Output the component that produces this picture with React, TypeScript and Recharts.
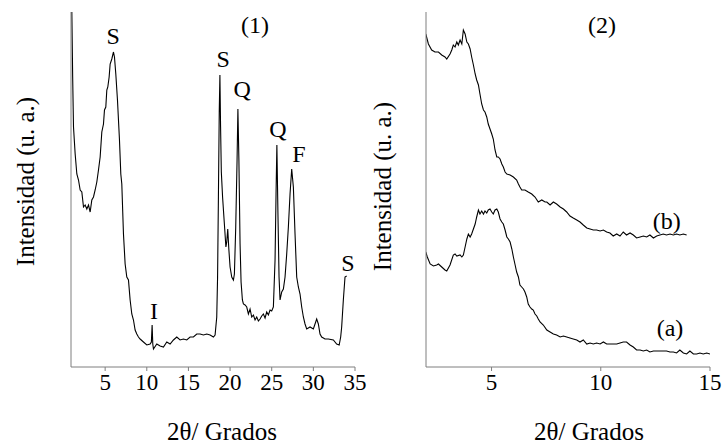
import { LineChart, Line, XAxis, YAxis, Label, ReferenceDot } from 'recharts'

// panel (1): full diffractogram
const theta1 = [
  0.9, 1.0, 1.1, 1.2, 1.4, 1.6, 1.8, 2.0, 2.2, 2.4, 2.6, 2.8, 3.0, 3.2, 3.4, 3.6, 3.8, 4.0, 4.2, 4.4,
  4.6, 4.8, 4.92, 5.08, 5.2, 5.32, 5.48, 5.6, 5.8, 6.0, 6.12, 6.28, 6.48, 6.72, 6.88, 7.0, 7.2, 7.4, 7.6, 7.8,
  8.0, 8.2, 8.4, 8.6, 8.8, 9.0, 9.2, 9.6, 10.0, 10.4, 10.55, 10.64, 10.72, 10.8, 11.2, 11.6, 12.0, 12.4, 12.8, 13.2,
  13.6, 14.0, 14.4, 14.8, 15.2, 15.6, 16.0, 16.4, 16.8, 17.2, 17.6, 18.0, 18.2, 18.4, 18.5, 18.6, 18.7, 18.78, 18.86, 18.95,
  19.1, 19.3, 19.5, 19.6, 19.72, 19.85, 20.0, 20.2, 20.4, 20.52, 20.68, 20.84, 20.94, 21.06, 21.2, 21.32, 21.48, 21.6, 21.8, 22.0,
  22.2, 22.4, 22.6, 22.8, 23.0, 23.2, 23.4, 23.6, 23.8, 24.0, 24.2, 24.4, 24.6, 24.8, 25.0, 25.2, 25.4, 25.52, 25.62, 25.74,
  25.88, 26.0, 26.2, 26.4, 26.6, 26.8, 27.0, 27.2, 27.4, 27.6, 27.8, 28.0, 28.2, 28.4, 28.6, 28.8, 29.0, 29.2, 29.6, 30.0,
  30.2, 30.4, 30.6, 30.8, 31.0, 31.4, 31.8, 32.4, 32.8, 33.1, 33.28, 33.4, 33.6, 33.8, 34.0
]
const counts1 = [
  370, 355, 290, 240, 213, 193, 187, 177, 175, 160, 162, 158, 162, 155, 167, 170, 177, 185, 197, 210,
  235, 243, 257, 260, 277, 280, 290, 303, 308, 315, 310, 293, 267, 227, 193, 183, 133, 103, 90, 87,
  67, 53, 47, 37, 33, 30, 28, 25, 22, 23, 25, 42, 23, 18, 23, 21, 20, 25, 23, 27,
  30, 27, 28, 27, 30, 30, 33, 33, 32, 33, 32, 30, 32, 50, 90, 170, 255, 292, 240, 195,
  170, 145, 120, 125, 138, 118, 100, 90, 87, 93, 140, 207, 258, 207, 123, 85, 67, 63, 62, 60,
  53, 58, 50, 52, 47, 50, 46, 48, 51, 53, 49, 55, 52, 57, 56, 60, 107, 173, 222, 157,
  90, 67, 75, 78, 90, 113, 140, 173, 198, 180, 133, 90, 80, 73, 60, 50, 43, 38, 40, 38,
  43, 48, 43, 33, 30, 28, 28, 27, 23, 22, 30, 40, 67, 90, 91
]

// panel (2): curve (a)
const theta2a = [
  1.99, 2.06, 2.19, 2.34, 2.49, 2.57, 2.72, 2.87, 2.95, 3.10, 3.25, 3.33, 3.41, 3.56, 3.64, 3.71, 3.79, 3.87, 3.94, 4.02,
  4.09, 4.17, 4.25, 4.32, 4.40, 4.47, 4.55, 4.63, 4.70, 4.78, 4.85, 4.93, 5.01, 5.08, 5.16, 5.24, 5.31, 5.39, 5.47, 5.54,
  5.62, 5.70, 5.77, 5.85, 5.93, 6.00, 6.08, 6.15, 6.23, 6.30, 6.38, 6.46, 6.53, 6.61, 6.68, 6.76, 6.84, 6.91, 6.99, 7.07,
  7.14, 7.22, 7.37, 7.53, 7.68, 7.83, 7.98, 8.14, 8.29, 8.44, 8.59, 8.74, 8.90, 9.05, 9.20, 9.36, 9.51, 9.66, 9.81, 9.97,
  10.12, 10.27, 10.42, 10.57, 10.73, 10.88, 11.03, 11.18, 11.34, 11.49, 11.64, 11.80, 11.95, 12.10, 12.25, 12.41, 12.56, 12.71, 12.86, 13.01,
  13.17, 13.32, 13.47, 13.62, 13.78, 13.93, 14.08, 14.24, 14.39, 14.54, 14.69, 14.85, 15.0
]
const counts2a = [
  115, 110, 103, 101, 102, 103, 100, 97, 96, 102, 112, 113, 111, 112, 110, 112, 120, 128, 133, 130,
  133, 138, 143, 150, 157, 153, 156, 153, 156, 154, 157, 158, 155, 153, 157, 158, 155, 148, 145, 143,
  137, 130, 128, 125, 118, 110, 102, 95, 90, 82, 80, 78, 75, 70, 63, 60, 58, 57, 53, 51,
  48, 45, 42, 37, 35, 33, 32, 30, 31, 30, 29, 28, 27, 25, 27, 23, 24, 23, 24, 23,
  25, 23, 23, 23, 23, 24, 25, 25, 22, 20, 17, 17, 16, 17, 15, 16, 16, 16, 16, 16,
  15, 15, 14, 17, 14, 13, 16, 13, 13, 14, 13, 14, 13
]

// panel (2): curve (b)
const theta2b = [
  1.99, 2.11, 2.26, 2.41, 2.57, 2.72, 2.87, 2.95, 3.10, 3.18, 3.25, 3.33, 3.41, 3.48, 3.56, 3.64, 3.71, 3.79, 3.87, 3.94,
  4.02, 4.09, 4.17, 4.25, 4.32, 4.40, 4.47, 4.55, 4.63, 4.70, 4.78, 4.85, 4.93, 5.01, 5.08, 5.16, 5.24, 5.31, 5.39, 5.47,
  5.54, 5.62, 5.70, 5.85, 6.0, 6.15, 6.23, 6.30, 6.38, 6.53, 6.68, 6.84, 6.99, 7.14, 7.30, 7.45, 7.53, 7.68, 7.83, 7.98,
  8.14, 8.29, 8.44, 8.59, 8.74, 8.90, 9.05, 9.20, 9.36, 9.51, 9.66, 9.81, 9.97, 10.12, 10.27, 10.42, 10.57, 10.73, 10.88, 11.03,
  11.18, 11.34, 11.49, 11.64, 11.80, 11.95, 12.10, 12.25, 12.41, 12.56, 12.71, 12.86, 13.01, 13.17, 13.32, 13.47, 13.62, 13.78, 13.93
]
const counts2b = [
  333, 323, 317, 315, 315, 312, 310, 308, 313, 317, 322, 320, 325, 322, 327, 323, 337, 333, 325, 323,
  318, 310, 302, 293, 287, 282, 273, 263, 257, 255, 250, 243, 238, 233, 228, 217, 210, 210, 208, 203,
  200, 195, 193, 192, 190, 187, 183, 180, 177, 177, 175, 173, 170, 165, 167, 165, 165, 162, 165, 163,
  160, 158, 155, 151, 149, 147, 145, 142, 139, 138, 137, 137, 136, 137, 135, 134, 131, 133, 131, 135,
  132, 134, 132, 129, 130, 131, 130, 132, 129, 131, 132, 133, 132, 133, 132, 133, 132, 133, 132
]

const xTicks1 = [5, 10, 15, 20, 25, 30, 35]
const xTicks2 = [5, 10, 15]
const yTicks1 = [119, 236, 353]
const yTicks2 = [20, 109, 198, 287]

// phase letters: S esmectita, Q cuarzo, F feldespato, I illita
const tags1 = [
  { text: 'S', t: 5.96, v: 332 },
  { text: 'S', t: 19.16, v: 309 },
  { text: 'Q', t: 21.44, v: 279 },
  { text: 'Q', t: 25.76, v: 239 },
  { text: 'F', t: 28.28, v: 214 },
  { text: 'I', t: 10.88, v: 57 },
  { text: 'S', t: 34.16, v: 105 },
  { text: '(1)', t: 23.0, v: 343 }
]
const tags2 = [
  { text: '(2)', t: 10.06, v: 343 },
  { text: '(b)', t: 13.02, v: 147 },
  { text: '(a)', t: 13.17, v: 40 }
]

const pairs = (xs: number[], ys: number[]) => xs.map((t, i) => ({ t, v: ys[i] }))
const data1 = pairs(theta1, counts1)
const data2a = pairs(theta2a, counts2a)
const data2b = pairs(theta2b, counts2b)

const serif = '"Liberation Serif", "Times New Roman", serif'
const axisGrey = '#7f7f7f'
const tickStyle = { fontSize: 23, fill: '#000', fontFamily: serif }

const xTitle = (shift: number) => (p: any) => {
  const vb = p.viewBox
  return (
    <text x={vb.x + vb.width / 2 + shift} y={vb.y + vb.height - 7} textAnchor="middle"
      fontFamily={serif} fontSize={25} fill="#000">2θ/ Grados</text>
  )
}

const yTitle = (dx: number, dy: number) => (p: any) => {
  const vb = p.viewBox
  const cx = vb.x + dx
  const cy = vb.y + vb.height / 2 + dy
  return (
    <text x={cx} y={cy} transform={`rotate(-90 ${cx} ${cy})`} textAnchor="middle" dominantBaseline="central"
      fontFamily={serif} fontSize={25} fill="#000">Intensidad (u. a.)</text>
  )
}

const tagLabel = (text: string) => ({
  value: text,
  position: 'center' as const,
  fontSize: 24,
  fill: '#000',
  fontFamily: serif
})

export default function App() {
  return (
    <div style={{ position: 'absolute', left: 0, top: 0, width: 722, height: 447, background: '#fff' }}>
      <div style={{ position: 'absolute', left: 0, top: 0 }}>
        <LineChart width={385} height={447} margin={{ top: 12, right: 30, left: 11, bottom: 0 }}>
          <XAxis type="number" dataKey="t" domain={[0.9, 35]} ticks={xTicks1} allowDataOverflow
            height={80} tickSize={4} tickMargin={3} tick={tickStyle}
            axisLine={{ stroke: axisGrey }} tickLine={{ stroke: axisGrey }}>
            <Label content={xTitle(9)} />
          </XAxis>
          <YAxis type="number" domain={[0, 355]} ticks={yTicks1} allowDataOverflow width={60}
            tick={false} tickSize={3} axisLine={{ stroke: axisGrey }} tickLine={{ stroke: axisGrey }}>
            <Label content={yTitle(14, -8)} />
          </YAxis>
          <Line data={data1} dataKey="v" type="linear" stroke="#000" strokeWidth={1.1} dot={false}
            isAnimationActive={false} />
          {tags1.map((g, i) => (
            <ReferenceDot key={i} x={g.t} y={g.v} r={0} fill="none" stroke="none" label={tagLabel(g.text)} />
          ))}
        </LineChart>
      </div>
      <div style={{ position: 'absolute', left: 361, top: 0 }}>
        <LineChart width={361} height={447} margin={{ top: 12, right: 12, left: 5, bottom: 0 }}>
          <XAxis type="number" dataKey="t" domain={[2, 15]} ticks={xTicks2} allowDataOverflow
            height={80} tickSize={4} tickMargin={3} tick={tickStyle}
            axisLine={{ stroke: axisGrey }} tickLine={{ stroke: axisGrey }}>
            <Label content={xTitle(21)} />
          </XAxis>
          <YAxis type="number" domain={[0, 355]} ticks={yTicks2} allowDataOverflow width={60}
            tick={false} tickSize={3} axisLine={{ stroke: axisGrey }} tickLine={{ stroke: axisGrey }}>
            <Label content={yTitle(16, -3)} />
          </YAxis>
          <Line data={data2b} dataKey="v" type="linear" stroke="#000" strokeWidth={1.1} dot={false}
            isAnimationActive={false} />
          <Line data={data2a} dataKey="v" type="linear" stroke="#000" strokeWidth={1.1} dot={false}
            isAnimationActive={false} />
          {tags2.map((g, i) => (
            <ReferenceDot key={i} x={g.t} y={g.v} r={0} fill="none" stroke="none" label={tagLabel(g.text)} />
          ))}
        </LineChart>
      </div>
    </div>
  )
}
